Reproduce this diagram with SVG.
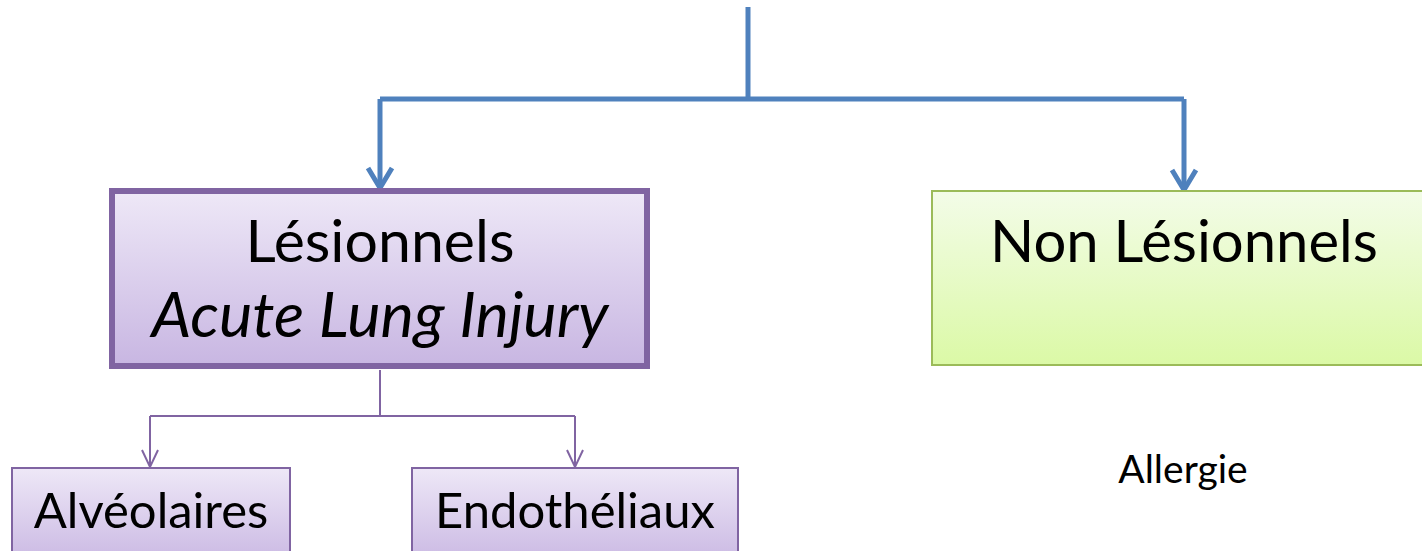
<svg xmlns="http://www.w3.org/2000/svg" width="1422" height="551" viewBox="0 0 1422 551">
<defs>
<linearGradient id="gp" x1="0" y1="0" x2="0" y2="1"><stop offset="0" stop-color="#EEE8F7"/><stop offset="1" stop-color="#C8B6E2"/></linearGradient>
<linearGradient id="gg" x1="0" y1="0" x2="0" y2="1"><stop offset="0" stop-color="#F3FCE8"/><stop offset="1" stop-color="#DBF9A6"/></linearGradient>
</defs>
<style>
.t{font-family:Lato,"Liberation Sans",sans-serif;fill:#000;text-anchor:middle}
.cb{fill:none;stroke:#4F81BD;stroke-width:5}
.cp{fill:none;stroke:#8064A2;stroke-width:2}
</style>
<g id="connectors">
<path class="cb" d="M748,7 V99"/>
<path class="cb" d="M380,99 H1184"/>
<path class="cb" d="M380,99 V186"/>
<path class="cb" d="M368,168 L380,188 L392,168"/>
<path class="cb" d="M1184,99 V189"/>
<path class="cb" d="M1172,170 L1184,190 L1196,170"/>
<path class="cp" d="M380,370 V416 M150,416 H575 M150,416 V467 M575,416 V467"/>
<path class="cp" d="M142,450 L150,467 L158,450 M567,450 L575,467 L583,450"/>
</g>
<g id="lesionnels">
<rect x="112" y="191" width="535" height="175" fill="url(#gp)" stroke="#8064A2" stroke-width="6"/>
<text class="t" x="380" y="262" font-size="59">Lésionnels</text>
<text class="t" x="380" y="337" font-size="63" font-style="italic">Acute Lung Injury</text>
</g>
<g id="non-lesionnels">
<rect x="932" y="191" width="500" height="174" fill="url(#gg)" stroke="#9BBB59" stroke-width="2"/>
<text class="t" x="1184" y="262" font-size="58">Non Lésionnels</text>
</g>
<g id="allergie">
<text class="t" x="1183" y="483" font-size="39">Allergie</text>
</g>
<g id="alveolaires">
<rect x="12" y="468" width="278" height="100" fill="url(#gp)" stroke="#8064A2" stroke-width="2"/>
<text class="t" x="151" y="528" font-size="49">Alvéolaires</text>
</g>
<g id="endotheliaux">
<rect x="412" y="468" width="326" height="100" fill="url(#gp)" stroke="#8064A2" stroke-width="2"/>
<text class="t" x="575" y="528" font-size="49">Endothéliaux</text>
</g>
</svg>
